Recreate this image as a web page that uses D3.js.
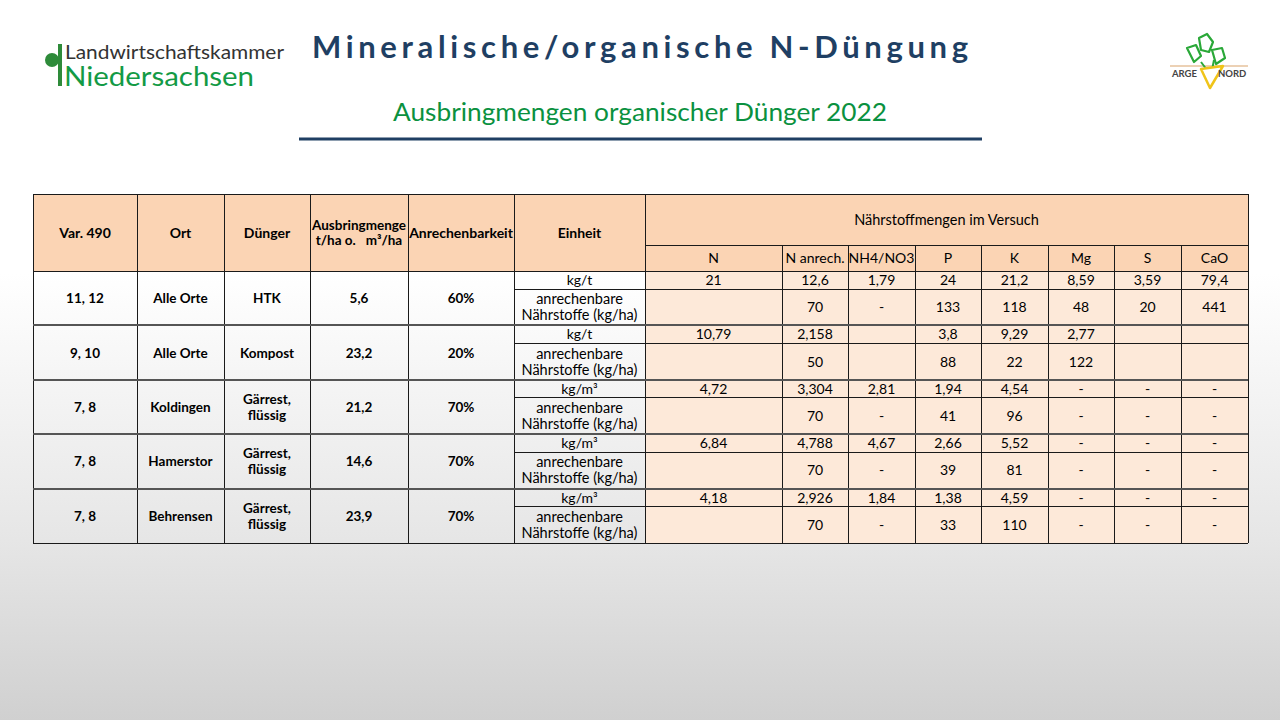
<!DOCTYPE html>
<html>
<head>
<meta charset="utf-8">
<title>Ausbringmengen organischer Dünger 2022</title>
<style type="text/css">
	html, body{ margin:0; padding:0; }
	body{ width:1280px; height:720px; overflow:hidden; }
	svg{ display:block; font-family: Lato, "Noto Sans", sans-serif; }
</style>
</head>
<body>
<div id="board"></div>
<script src="https://cdn.jsdelivr.net/npm/d3@7"></script>
<script>
	// --- data ---
	var varNr = ["11, 12", "9, 10", "7, 8", "7, 8", "7, 8"];
	var orte = ["Alle Orte", "Alle Orte", "Koldingen", "Hamerstor", "Behrensen"];
	var duenger = [["HTK"], ["Kompost"], ["Gärrest,", "flüssig"], ["Gärrest,", "flüssig"], ["Gärrest,", "flüssig"]];
	var mengen = [5.6, 23.2, 21.2, 14.6, 23.9];
	var anrechenbarkeit = [60, 20, 70, 70, 70];
	var einheit = ["kg/t", "kg/t", "kg/m³", "kg/m³", "kg/m³"];
	var naehrstoffe = ["N", "N anrech.", "NH4/NO3", "P", "K", "Mg", "S", "CaO"];
	// gehalt je Einheit (null = leer)
	var gehalt = [
		[21, 12.6, 1.79, 24, 21.2, 8.59, 3.59, 79.4],
		[10.79, 2.158, null, 3.8, 9.29, 2.77, null, null],
		[4.72, 3.304, 2.81, 1.94, 4.54, "-", "-", "-"],
		[6.84, 4.788, 4.67, 2.66, 5.52, "-", "-", "-"],
		[4.18, 2.926, 1.84, 1.38, 4.59, "-", "-", "-"]
	];
	// anrechenbare Nährstoffe kg/ha
	var anrechenbar = [
		[null, 70, "-", 133, 118, 48, 20, 441],
		[null, 50, null, 88, 22, 122, null, null],
		[null, 70, "-", 41, 96, "-", "-", "-"],
		[null, 70, "-", 39, 81, "-", "-", "-"],
		[null, 70, "-", 33, 110, "-", "-", "-"]
	];

	// --- layout ---
	var W = 1280, H = 720;
	var tableLeft = 33, tableTop = 194, head1 = 245, head2 = 271, tableBottom = 543, subH = 18;
	var colWidths = [104, 87, 86, 98, 106, 131, 137, 66, 67, 66, 67, 66, 67, 67];
	var colKeys = ["var", "ort", "dueng", "menge", "anr", "einheit"].concat(naehrstoffe);
	var starts = [tableLeft].concat(Array.from(d3.cumsum(colWidths), function(d){ return tableLeft + d; }));
	var xCol = d3.scaleOrdinal().domain(colKeys).range(starts.slice(0, -1));
	var wCol = d3.scaleOrdinal().domain(colKeys).range(colWidths);
	var tableRight = starts[starts.length - 1];
	var yRow = d3.scaleBand().domain(d3.range(varNr.length)).range([head2, tableBottom]);

	var headFill = "#fbd4b4", bodyFill = "#fde9d9";
	var fmt = function(v){
		if( v === null ) return "";
		if( typeof v === "string" ) return v;
		return String(v).replace(".", ",");
	};

	var svg = d3.select('#board').append('svg')
		.attr('width', W).attr('height', H);

	var defs = svg.append('defs');
	var grad = defs.append('linearGradient').attr('id', 'bg')
		.attr('x1', 0).attr('y1', 0).attr('x2', 0).attr('y2', 1);
	grad.append('stop').attr('offset', '0%').attr('stop-color', '#ffffff');
	grad.append('stop').attr('offset', '38%').attr('stop-color', '#ffffff');
	grad.append('stop').attr('offset', '75%').attr('stop-color', '#e6e6e6');
	grad.append('stop').attr('offset', '100%').attr('stop-color', '#d0d0d0');
	svg.append('rect').attr('width', W).attr('height', H).attr('fill', 'url(#bg)');

	// --- titles ---
	svg.append('text').attr('x', 640).attr('y', 58).attr('text-anchor', 'middle')
		.attr('font-size', 31).attr('font-weight', 'bold').attr('fill', '#1f3f63')
		.attr('textLength', 656).attr('lengthAdjust', 'spacing')
		.text('Mineralische/organische N-Düngung');
	svg.append('text').attr('x', 640).attr('y', 121).attr('text-anchor', 'middle')
		.attr('font-size', 25).attr('fill', '#0a9140')
		.attr('textLength', 494).attr('lengthAdjust', 'spacingAndGlyphs')
		.text('Ausbringmengen organischer Dünger 2022');
	svg.append('line').attr('x1', 299).attr('x2', 982).attr('y1', 139).attr('y2', 139)
		.attr('stroke', '#1f3f63').attr('stroke-width', 3);

	// --- left logo ---
	var logo = svg.append('g');
	logo.append('circle').attr('cx', 52).attr('cy', 60).attr('r', 7).attr('fill', '#2e8b3a');
	logo.append('rect').attr('x', 58).attr('y', 44).attr('width', 4).attr('height', 42).attr('fill', '#2e8b3a');
	logo.append('text').attr('x', 65).attr('y', 59).attr('font-size', 20).attr('fill', '#333')
		.attr('textLength', 219).attr('lengthAdjust', 'spacingAndGlyphs')
		.text('Landwirtschaftskammer');
	logo.append('text').attr('x', 64).attr('y', 86).attr('font-size', 26).attr('fill', '#139a45')
		.attr('textLength', 190).attr('lengthAdjust', 'spacingAndGlyphs')
		.text('Niedersachsen');

	// --- right logo (ARGE NORD) ---
	var arge = svg.append('g');
	arge.append('line').attr('x1', 1170).attr('x2', 1248).attr('y1', 66).attr('y2', 66)
		.attr('stroke', '#d9a36a').attr('stroke-width', 1);
	arge.append('path').attr('d', 'M1199,38 L1207,34 L1213,42 L1209,52 L1201,50 Z M1187,48 L1196,45 L1201,56 L1194,62 Z M1212,50 L1222,48 L1225,58 L1216,64 Z')
		.attr('fill', 'none').attr('stroke', '#2aa838').attr('stroke-width', 2.2).attr('stroke-linejoin', 'round');
	arge.append('path').attr('d', 'M1201,62 L1207,70 M1214,60 L1212,70')
		.attr('stroke', '#2aa838').attr('stroke-width', 2);
	arge.append('path').attr('d', 'M1201,69 L1210,88 L1223,66 Z')
		.attr('fill', '#fff').attr('stroke', '#f0c419').attr('stroke-width', 2.5).attr('stroke-linejoin', 'round');
	arge.append('text').attr('x', 1172).attr('y', 77).attr('font-size', 9.5).attr('font-weight', 'bold')
		.attr('fill', '#444').text('ARGE');
	arge.append('text').attr('x', 1218).attr('y', 77).attr('font-size', 9.5).attr('font-weight', 'bold')
		.attr('fill', '#444').text('NORD');

	// --- table ---
	var tbl = svg.append('g').attr('font-size', 14).attr('fill', '#000');

	function cellText( cx, cy, lines, bold, lh, size ){
		lh = lh || 15;
		var t = tbl.append('text').attr('text-anchor', 'middle')
			.attr('font-weight', bold ? 'bold' : 'normal');
		if( size ) t.attr('font-size', size);
		var y0 = cy - (lines.length - 1) * lh / 2 + 5;
		lines.forEach(function(l, i){
			t.append('tspan').attr('x', cx).attr('y', y0 + i * lh).text(l);
		});
		return t;
	}

	// fills
	tbl.append('rect').attr('x', tableLeft).attr('y', tableTop)
		.attr('width', tableRight - tableLeft).attr('height', head2 - tableTop).attr('fill', headFill);
	tbl.append('rect').attr('x', xCol('N')).attr('y', head2)
		.attr('width', tableRight - xCol('N')).attr('height', tableBottom - head2).attr('fill', bodyFill);

	// header texts
	var headLeft = [["Var. 490"], ["Ort"], ["Dünger"], ["Ausbringmenge", "t/ha o.\u00a0\u00a0 m³/ha"], ["Anrechenbarkeit"], ["Einheit"]];
	colKeys.slice(0, 6).forEach(function(k, i){
		cellText(xCol(k) + wCol(k) / 2, (tableTop + head2) / 2, headLeft[i], true, 15, i === 3 ? 13.5 : 14);
	});
	cellText((xCol('N') + tableRight) / 2, (tableTop + head1) / 2, ["Nährstoffmengen im Versuch"], false, 15, 14.5);
	naehrstoffe.forEach(function(n){
		cellText(xCol(n) + wCol(n) / 2, (head1 + head2) / 2, [n], false);
	});

	// body texts
	d3.range(varNr.length).forEach(function(r){
		var y = yRow(r), h = yRow.bandwidth(), cy = y + h / 2;
		var vals = [[varNr[r]], [orte[r]], duenger[r], [fmt(mengen[r])], [anrechenbarkeit[r] + "%"]];
		colKeys.slice(0, 5).forEach(function(k, i){
			cellText(xCol(k) + wCol(k) / 2, cy, vals[i], true, 16, 13.5);
		});
		var ex = xCol('einheit') + wCol('einheit') / 2;
		cellText(ex, y + subH / 2, [einheit[r]], false);
		cellText(ex, y + subH + (h - subH) / 2, ["anrechenbare", "Nährstoffe (kg/ha)"], false, 16, 14.5);
		naehrstoffe.forEach(function(n, j){
			var nx = xCol(n) + wCol(n) / 2;
			cellText(nx, y + subH / 2, [fmt(gehalt[r][j])], false);
			cellText(nx, y + subH + (h - subH) / 2, [fmt(anrechenbar[r][j])], false);
		});
	});

	// grid lines
	var grid = tbl.append('g').attr('stroke', '#1a1a1a').attr('stroke-width', 1).attr('shape-rendering', 'crispEdges');
	// outer & header horizontals
	[tableTop, head2, tableBottom].forEach(function(y){
		grid.append('line').attr('x1', tableLeft).attr('x2', tableRight).attr('y1', y).attr('y2', y);
	});
	grid.append('line').attr('x1', xCol('N')).attr('x2', tableRight).attr('y1', head1).attr('y2', head1);
	// verticals
	starts.forEach(function(x, i){
		var top = (i > 6 && i < starts.length - 1) ? head1 : tableTop;
		grid.append('line').attr('x1', x).attr('x2', x).attr('y1', top).attr('y2', tableBottom);
	});
	// group separators & sub-row lines
	d3.range(varNr.length).forEach(function(r){
		var y = yRow(r);
		if( r > 0 ){
			grid.append('line').attr('x1', tableLeft).attr('x2', tableRight).attr('y1', y).attr('y2', y)
				.attr('stroke', '#555').attr('stroke-width', 2);
		}
		grid.append('line').attr('x1', xCol('einheit')).attr('x2', tableRight)
			.attr('y1', y + subH).attr('y2', y + subH);
	});
</script>
</body>
</html>
